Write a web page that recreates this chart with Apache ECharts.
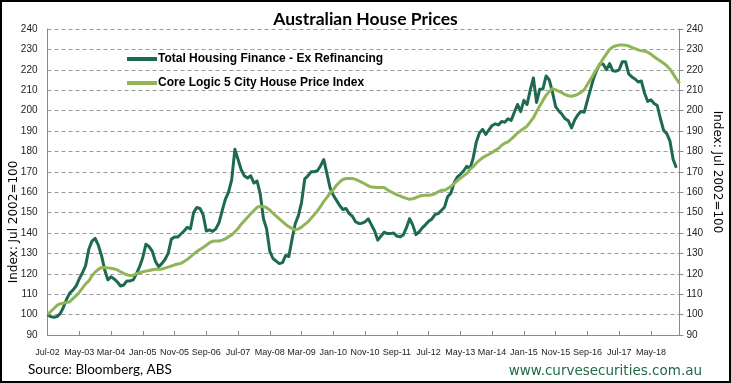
<!DOCTYPE html>
<html>
<head>
<meta charset="utf-8">
<script src="https://cdn.jsdelivr.net/npm/echarts@6/dist/echarts.min.js"></script>
<style>
html,body{margin:0;padding:0;background:#fff;}
#chart{width:731px;height:383px;}
</style>
</head>
<body>
<div id="chart"></div>
<script>
// Monthly categories Jul-02 .. Feb-19
const monthNames = ['Jan','Feb','Mar','Apr','May','Jun','Jul','Aug','Sep','Oct','Nov','Dec'];
const startYear = 2002, startMonth = 6, monthCount = 200;
const tickLabels = ['Jul-02','May-03','Mar-04','Jan-05','Nov-05','Sep-06','Jul-07','May-08','Mar-09','Jan-10','Nov-10','Sep-11','Jul-12','May-13','Mar-14','Jan-15','Nov-15','Sep-16','Jul-17','May-18'];
const yTicks = [90,100,110,120,130,140,150,160,170,180,190,200,210,220,230,240];

const financeName = 'Total Housing Finance - Ex Refinancing';
const coreName = 'Core Logic 5 City House Price Index';

const financeValues = [
100,99,98.7,99,100.5,103.5,107.5,110.5,112,114,
117.5,120.5,124,132,136,137.4,134,129,122,117,
118.5,117.5,116,114,114.5,116.5,116.5,117,120,123.5,
128,134.5,133.3,131,126,123.5,125,127,130,137,
138,138,139.5,141,142.8,142,150,152.5,152,149,
141,141.5,140.8,142,145,151,156.5,160,166,181,
176,171,168,167,168,164.5,165.5,159,147,142,
131,127.5,126.2,125,125.5,129,128.5,137,144.5,148.5,
155,166.5,168,170,170,170.5,173,176,169,162,
158.5,156,153.5,151.5,152,149.5,148.2,145.5,144.7,144.8,
145.5,147,144,141,136.5,138.5,140.4,139.7,139.7,140,
138.5,138.1,139,142.5,147,144,139.2,140.5,142.5,144,
145.8,146.8,149,149.5,151,152.6,157.8,159.5,164.5,167.4,
168.8,170.4,172.7,171.5,176.5,184.5,189,190.8,188.3,190.6,
192.7,193.5,193,194.7,194.3,196,195.2,199.2,203,199.5,
205,203,210,216,204,210.5,210.6,217,215,209,
202,199.8,198.2,196,195,191.5,195.4,198,199.6,199.2,
205,210.5,216,220,223,222.7,220,223,219.5,219.3,
220,224,224,218,216.5,215.5,214,214.5,208.5,204.5,
205.3,203.5,202.5,196,190.3,188.7,185,176,172
];

const coreValues = [
100,101.5,103,104.5,105.3,105.6,105.9,106.3,107.8,109.3,
111,113,115,116.5,119,120.8,122.2,123,123.1,122.9,
122.7,122.4,121.9,121,120.2,119.5,119.1,119.3,120.1,120.5,
121,121.3,121.6,122,122.2,122.2,122.3,122.8,123.3,123.8,
124.4,124.8,125.1,126,127,128.3,129.6,130.9,131.9,132.9,
134,135.2,136,136.1,136.1,136.5,137.1,138.2,139,140.6,
142.2,144.3,146,147.7,149.4,151,152.6,153.1,153,152.4,
151.2,149.7,148.3,146.9,145.6,144.2,143.1,142.3,141.5,142,
142.9,144.2,145.5,147.2,149,150.8,153,155.5,157.5,159.6,
161.3,163.4,165,166.2,166.7,166.7,166.7,166.3,165.6,164.8,
164,163.1,162.5,162.4,162.3,162.3,162.3,161.2,160.3,159.6,
158.7,158.2,157.5,157,156.5,156.8,157.3,158,158.4,158.5,
158.5,158.7,159.2,160.2,160.9,160.9,161.8,162.8,164.2,165.6,
166.8,168,169.1,171.2,172.4,174.2,175.6,176.9,177.8,178.6,
179.5,180.5,181.4,183,184,184.7,186,187.5,189,190.2,
191.2,192.4,194.5,196.5,199.5,202.3,205,207.5,209.3,210.8,
210.2,209.4,208.8,207.8,207.3,207,207.4,208,209,210.2,
212.8,215.3,218,220.5,222.8,225.5,227.8,230,231.2,231.8,
232.1,232.1,232,231.7,231,230.4,229.8,229.3,229.2,228.6,
227.7,226.4,225.3,224.3,223.2,222,220.3,218,215.5,213.3
];

const categories = [];
for (let i = 0; i < monthCount; i++) {
  const mi = (startMonth + i) % 12;
  const yr = startYear + Math.floor((startMonth + i) / 12);
  categories.push(monthNames[mi] + '-' + String(yr % 100).padStart(2, '0'));
}

const darkGreen = '#1e6a4e';
const lightGreen = '#8fb558';
const axisFont = 'Liberation Sans';

const chart = echarts.init(document.getElementById('chart'), null, {renderer: 'canvas'});

const yAxisCommon = {
  type: 'value', min: yTicks[0], max: yTicks[yTicks.length - 1], interval: 10,
  axisLine: {show: true, lineStyle: {color: '#8a8a8a', width: 1}},
  axisLabel: {color: '#222', fontSize: 10, fontFamily: axisFont},
};

chart.setOption({
  animation: false,
  backgroundColor: '#fff',
  title: {
    text: 'Australian House Prices', left: 'center', top: 5,
    textStyle: {fontFamily: 'Lato', fontWeight: 'bold', fontSize: 17.5, color: '#000'}
  },
  legend: {
    orient: 'vertical', left: 122, top: 48,
    itemWidth: 30, itemHeight: 4, itemGap: 12, icon: 'rect',
    textStyle: {fontFamily: 'Liberation Sans', fontWeight: 'bold', fontSize: 12, color: '#000', padding: [0,0,0,-4]},
    data: [financeName, coreName]
  },
  grid: {left: 47.5, right: 51.5, top: 29, bottom: 48},
  xAxis: {
    type: 'category', data: categories, boundaryGap: false,
    axisLine: {lineStyle: {color: '#8a8a8a'}},
    axisTick: {show: true, inside: true, length: 4, interval: 9, lineStyle: {color: '#8a8a8a'}},
    axisLabel: {
      interval: 9, color: '#222', fontSize: 9, fontFamily: axisFont, margin: 13,
      formatter: function (v, idx) { const k = idx / 10; return tickLabels[k] !== undefined ? tickLabels[k] : v; }
    },
    splitLine: {show: false}
  },
  yAxis: [
    Object.assign({}, yAxisCommon, {
      position: 'left',
      axisTick: {show: false},
      axisLabel: Object.assign({}, yAxisCommon.axisLabel, {margin: 10}),
      splitLine: {show: true, lineStyle: {color: '#9a9a9a', type: [4, 3], width: 1}}
    }),
    Object.assign({}, yAxisCommon, {
      position: 'right',
      axisTick: {show: true, length: 4, lineStyle: {color: '#8a8a8a'}},
      axisLabel: Object.assign({}, yAxisCommon.axisLabel, {margin: 7}),
      splitLine: {show: false}
    })
  ],
  series: [
    {
      name: financeName, type: 'line', yAxisIndex: 0, data: financeValues,
      showSymbol: false, symbol: 'none', color: darkGreen,
      lineStyle: {width: 3, color: darkGreen, join: 'round'}
    },
    {
      name: coreName, type: 'line', yAxisIndex: 1, data: coreValues,
      showSymbol: false, symbol: 'none', color: lightGreen,
      lineStyle: {width: 3, color: lightGreen, join: 'round'}
    }
  ],
  graphic: [
    {type: 'rect', silent: true, shape: {x: 1, y: 1, width: 729, height: 381},
     style: {fill: null, stroke: '#000', lineWidth: 2}},
    {type: 'text', x: 14, y: 222, rotation: Math.PI / 2,
     style: {text: 'Index: Jul 2002=100', fontSize: 12, fontFamily: 'DejaVu Sans', fill: '#000', textAlign: 'center', textVerticalAlign: 'middle'}},
    {type: 'text', x: 717, y: 172, rotation: -Math.PI / 2,
     style: {text: 'Index: Jul 2002=100', fontSize: 12, fontFamily: 'DejaVu Sans', fill: '#000', textAlign: 'center', textVerticalAlign: 'middle'}},
    {type: 'text', x: 28, y: 370,
     style: {text: 'Source: Bloomberg, ABS', fontSize: 13.5, fontFamily: 'Lato', fill: '#000', textAlign: 'left', textVerticalAlign: 'middle'}},
    {type: 'text', x: 702, y: 371,
     style: {text: 'www.curvesecurities.com.au', fontSize: 13.5, fontFamily: 'DejaVu Sans', fill: '#1f6b47', textAlign: 'right', textVerticalAlign: 'middle'}}
  ]
});
</script>
</body>
</html>
